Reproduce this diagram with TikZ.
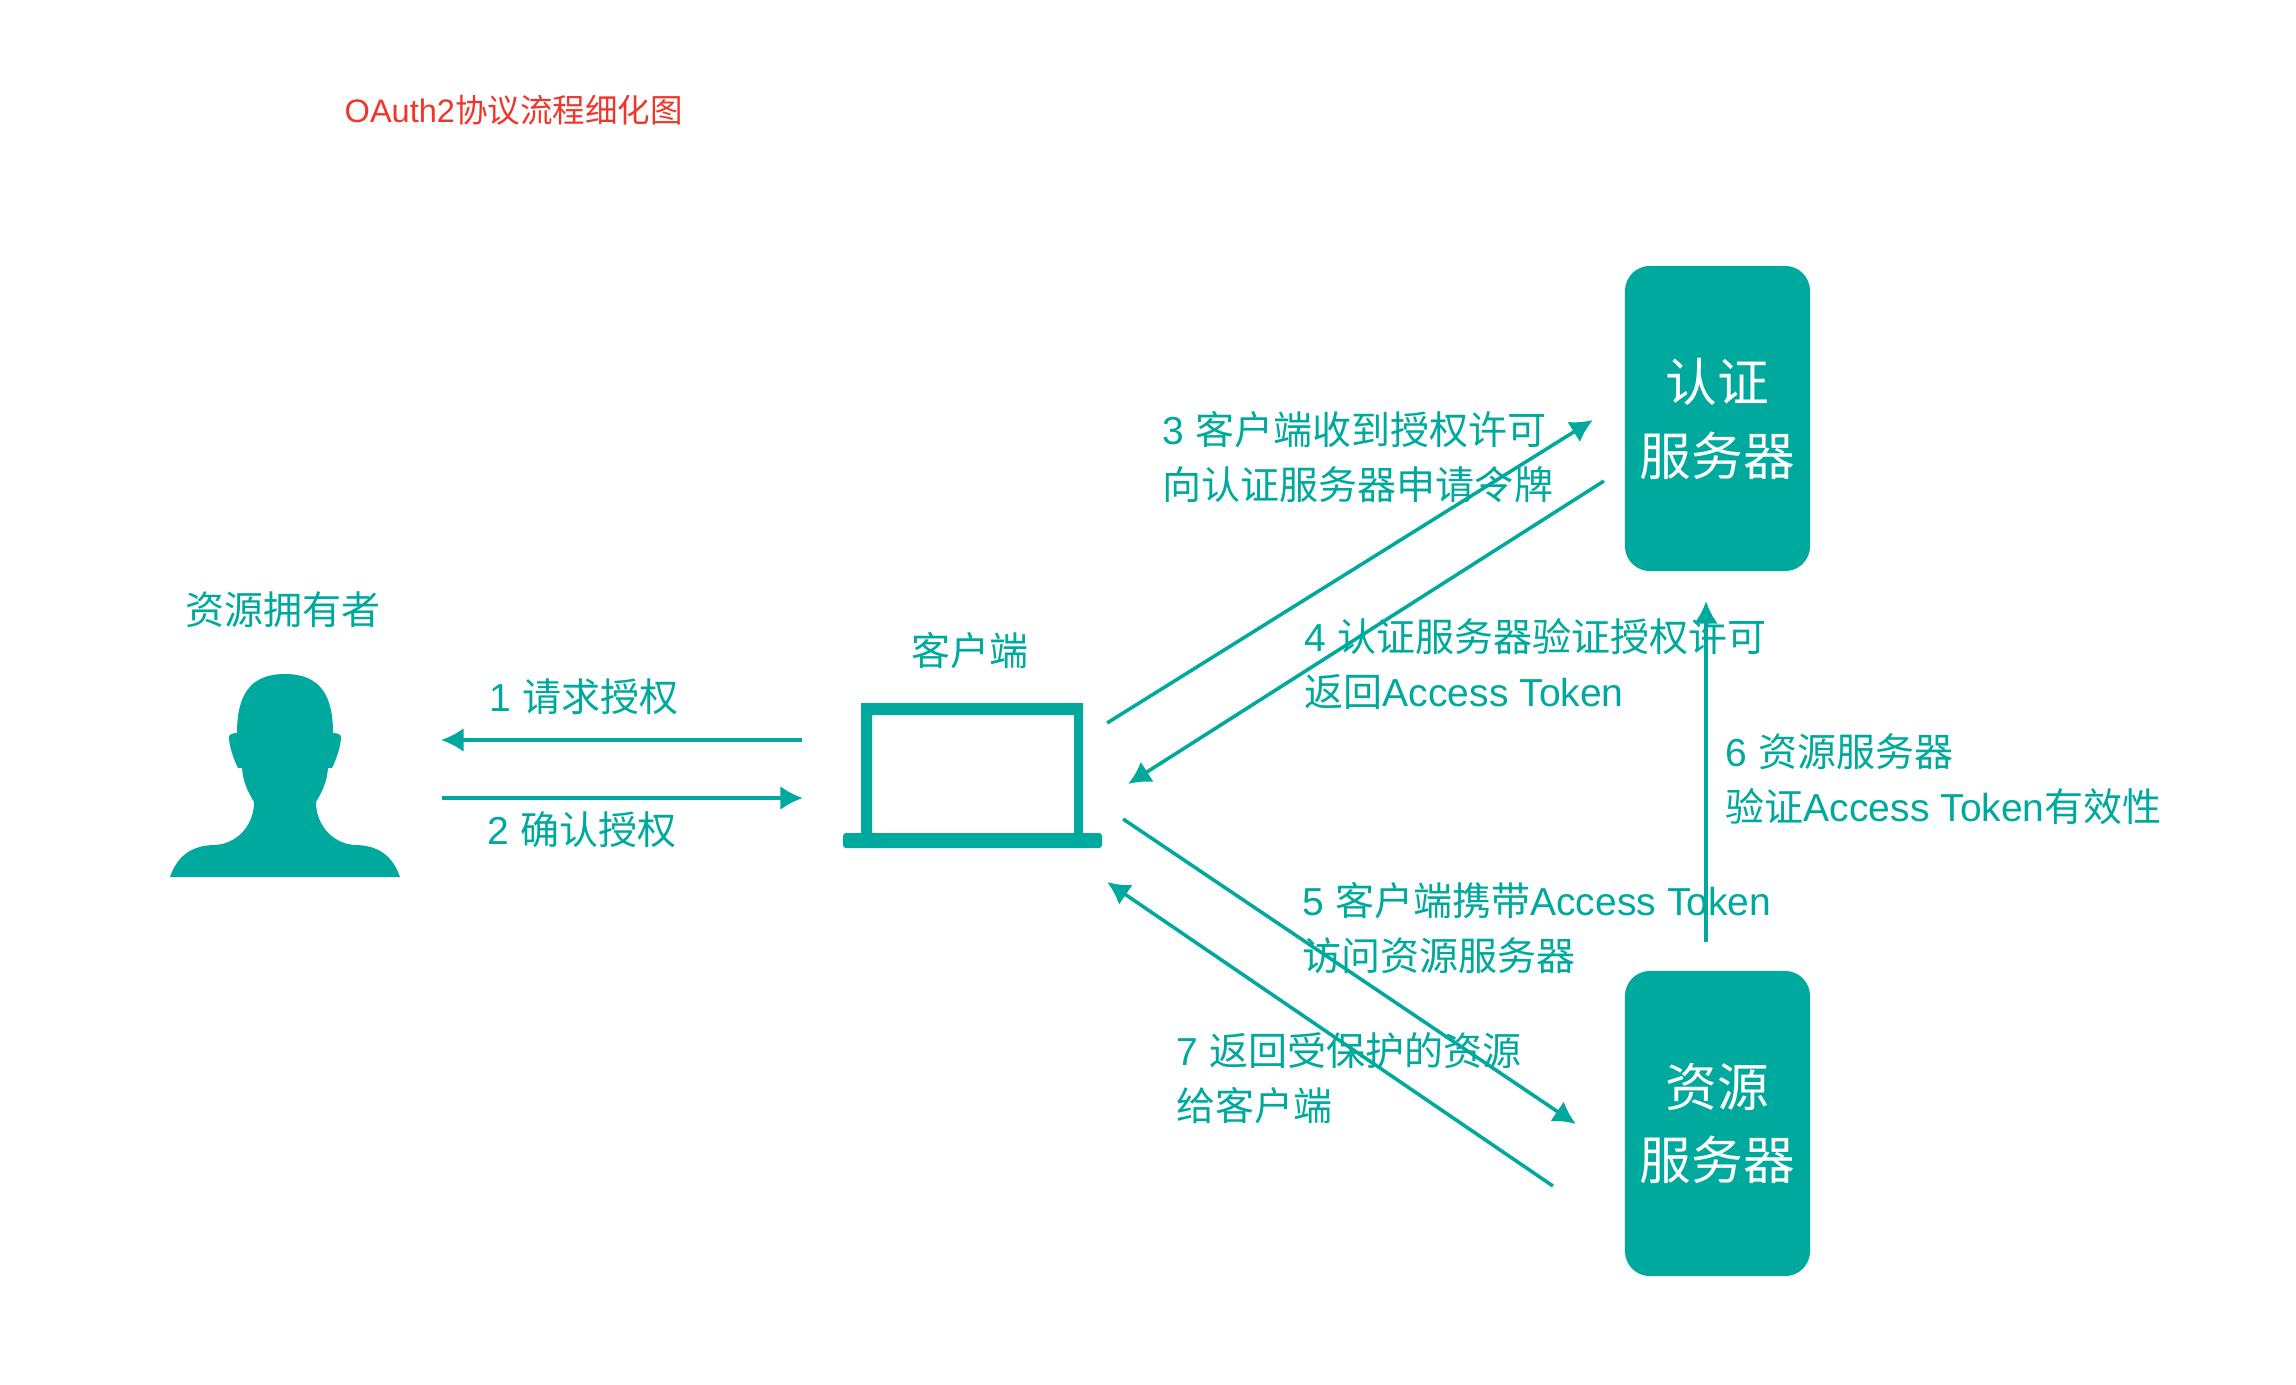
\documentclass[tikz,border=0pt]{standalone}
\usepackage{fontspec}
\setmainfont{Liberation Sans}
\newfontfamily\cjk{Noto Sans CJK SC}
\usetikzlibrary{arrows.meta}
\definecolor{oteal}{HTML}{00A99D}
\definecolor{ored}{HTML}{F0352B}
\newcommand{\zh}[1]{{\cjk #1}}
\tikzset{
  flow/.style={draw=oteal,line width=1pt,-{Latex[length=6.4pt,width=6.8pt]}},
  lab/.style={text=oteal,inner sep=0pt,anchor=west,align=left,font=\fontsize{11.1}{15.6}\selectfont},
  iconname/.style={text=oteal,inner sep=0pt,font=\fontsize{11.1}{15.6}\selectfont},
  server/.style={fill=oteal,text=white,rounded corners=0.25cm,inner sep=0pt,outer sep=0pt,
    minimum width=1.85cm,minimum height=3.05cm,align=center,font=\fontsize{14.7}{21}\selectfont},
  place/.style={inner sep=0pt,outer sep=0pt}
}
\begin{document}
\begin{tikzpicture}[x=0.01cm,y=-0.01cm]
  \useasboundingbox (0,0) rectangle (2296,1384);
  \node[text=ored,inner sep=0pt,anchor=west,font=\fontsize{9.25}{11}\selectfont](title)at(344,110){OAuth2\zh{协议流程细化图}};
  \node[place,minimum width=2.3cm,minimum height=2.03cm](person)at(285,775.5){};
  \fill[oteal] (170,877) .. controls (177,857) and (190,846) .. (213,845)
    .. controls (236,845) and (254,826) .. (254,802)
    .. controls (248,792) and (243,782) .. (242,768) -- (238,768)
    .. controls (233,758) and (229,745) .. (229,737)
    .. controls (229,735) and (232,733) .. (237,733)
    .. controls (237,695) and (250,674) .. (285,674)
    .. controls (320,674) and (333,695) .. (333,733)
    .. controls (338,733) and (341,735) .. (341,737)
    .. controls (341,745) and (337,758) .. (332,768) -- (328,768)
    .. controls (327,782) and (322,792) .. (316,802)
    .. controls (316,826) and (334,845) .. (357,845)
    .. controls (380,846) and (393,857) .. (400,877) -- cycle;
  \node[place,minimum width=2.59cm,minimum height=1.45cm](client)at(972.5,775.5){};
  \fill[oteal,even odd rule] (861,703) rectangle (1083,834) (872,715) rectangle (1074,834);
  \fill[oteal,rounded corners=0.03cm] (843,833) rectangle (1102,848);
  \node[server](auth)at(1717.5,418.5){\zh{认证}\\\zh{服务器}};
  \node[server](res)at(1717.5,1123.5){\zh{资源}\\\zh{服务器}};
  \node[iconname](owner)at(283,610){\zh{资源拥有者}};
  \node[iconname](clientname)at(970,651){\zh{客户端}};
  \node[lab](s1)at(489,697){1 \zh{请求授权}};
  \node[lab](s2)at(487,830){2 \zh{确认授权}};
  \node[lab](s3)at(1162,457){3 \zh{客户端收到授权许可}\\\zh{向认证服务器申请令牌}};
  \node[lab](s4)at(1304,664){4 \zh{认证服务器验证授权许可}\\\zh{返回}Access Token};
  \node[lab](s5)at(1302,928){5 \zh{客户端携带}Access Token\\\zh{访问资源服务器}};
  \node[lab](s6)at(1725,779){6 \zh{资源服务器}\\\zh{验证}Access Token\zh{有效性}};
  \node[lab](s7)at(1176,1078){7 \zh{返回受保护的资源}\\\zh{给客户端}};
  \draw[flow] ([shift={(-41,-35.5)}]client.west) -- ([shift={(41,-35.5)}]person.east);
  \draw[flow] ([shift={(42,22.5)}]person.east) -- ([shift={(-40,22.5)}]client.west);
  \draw[flow] ([shift={(5,-52.5)}]client.east) -- ([shift={(-32,1.5)}]auth.west);
  \draw[flow] ([shift={(-21,62.5)}]auth.west) -- ([shift={(26,8.5)}]client.east);
  \draw[flow] ([shift={(21,43.5)}]client.east) -- ([shift={(-49,0.5)}]res.west);
  \draw[flow] ([shift={(-11.5,-29)}]res.north) -- ([shift={(-11.5,30)}]auth.south);
  \draw[flow] ([shift={(-72,62.5)}]res.west) -- ([shift={(5,106.5)}]client.east);
\end{tikzpicture}
\end{document}
